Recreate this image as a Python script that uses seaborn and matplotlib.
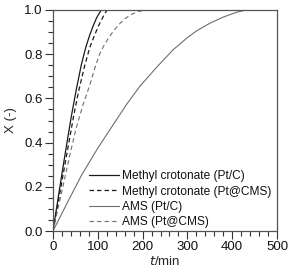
import pandas as pd
import matplotlib
matplotlib.use("Agg")
import matplotlib.pyplot as plt
from matplotlib.ticker import MultipleLocator
import seaborn as sns

# values
mc_ptc_t = [0, 10, 20, 30, 41, 52, 63, 73, 82, 90, 97, 103, 108]
mc_ptc_x = [0, 0.13, 0.26, 0.385, 0.52, 0.64, 0.75, 0.83, 0.887, 0.93, 0.963, 0.985, 1.0]

mc_cms_t = [0, 12, 23, 35, 46, 58, 71, 82, 93, 102, 110, 116, 121]
mc_cms_x = [0, 0.135, 0.26, 0.395, 0.52, 0.64, 0.75, 0.83, 0.887, 0.93, 0.962, 0.985, 1.0]

ams_ptc_t = [0, 30, 63, 100, 134, 165, 194, 231, 268, 300, 320, 350, 380, 410, 432]
ams_ptc_x = [0, 0.12, 0.25, 0.375, 0.48, 0.575, 0.655, 0.74, 0.82, 0.875, 0.905, 0.94, 0.968, 0.99, 1.0]

ams_cms_t = [0, 11, 22, 36, 51, 66, 82, 93, 104, 114, 123, 135, 145, 160, 175, 190, 205]
ams_cms_x = [0, 0.10, 0.2, 0.33, 0.46, 0.565, 0.66, 0.735, 0.80, 0.84, 0.87, 0.905, 0.93, 0.96, 0.98, 0.993, 1.0]

labels = ["Methyl crotonate (Pt/C)", "Methyl crotonate (Pt@CMS)",
          "AMS (Pt/C)", "AMS (Pt@CMS)"]

sns.set_style("ticks")
plt.rcParams['font.family'] = ['Liberation Sans', 'DejaVu Sans']
plt.rcParams['font.size'] = 8.5
plt.rcParams['text.color'] = "#111111"

fig = plt.figure(figsize=(2.9, 2.73), dpi=100)
ax = fig.add_axes([53 / 290, 1 - 231 / 273, 224 / 290, 221 / 273])

sns.lineplot(x=mc_ptc_t, y=mc_ptc_x, ax=ax, color="#1a1a1a", lw=0.9, label=labels[0])
sns.lineplot(x=mc_cms_t, y=mc_cms_x, ax=ax, color="#1a1a1a", lw=0.9, label=labels[1])
ax.lines[-1].set_dashes((3.6, 2.4))
sns.lineplot(x=ams_ptc_t, y=ams_ptc_x, ax=ax, color="#6e6e6e", lw=0.8, label=labels[2])
sns.lineplot(x=ams_cms_t, y=ams_cms_x, ax=ax, color="#6e6e6e", lw=0.8, label=labels[3])
ax.lines[-1].set_dashes((4.0, 2.8))

ax.set_xlim(0, 500)
ax.set_ylim(0, 1.0)
ax.xaxis.set_major_locator(MultipleLocator(100))
ax.xaxis.set_minor_locator(MultipleLocator(20))
ax.yaxis.set_major_locator(MultipleLocator(0.2))
ax.yaxis.set_minor_locator(MultipleLocator(0.05))
ax.yaxis.set_major_formatter(lambda v, _: f"{v:.1f}")
ax.tick_params(which="both", direction="out", top=False, right=False,
               color="#333333", labelsize=9.5, labelcolor="#111111")
ax.tick_params(which="major", length=6, width=0.8, pad=1.5)
ax.tick_params(which="minor", length=3.6, width=0.8)
for s in ax.spines.values():
    s.set_color("#555555")
    s.set_linewidth(0.9)

ax.set_xlabel("$\\it{t}$/min", fontsize=9.5, labelpad=1)
ax.set_ylabel("X (-)", fontsize=9.5, labelpad=5)

ax.legend(loc="lower right", frameon=False, fontsize=8.6, handlelength=2.5,
          handletextpad=0.25, labelspacing=0.28, borderaxespad=0.1,
          bbox_to_anchor=(1.0, -0.015))

fig.savefig("out.png", dpi=100)
